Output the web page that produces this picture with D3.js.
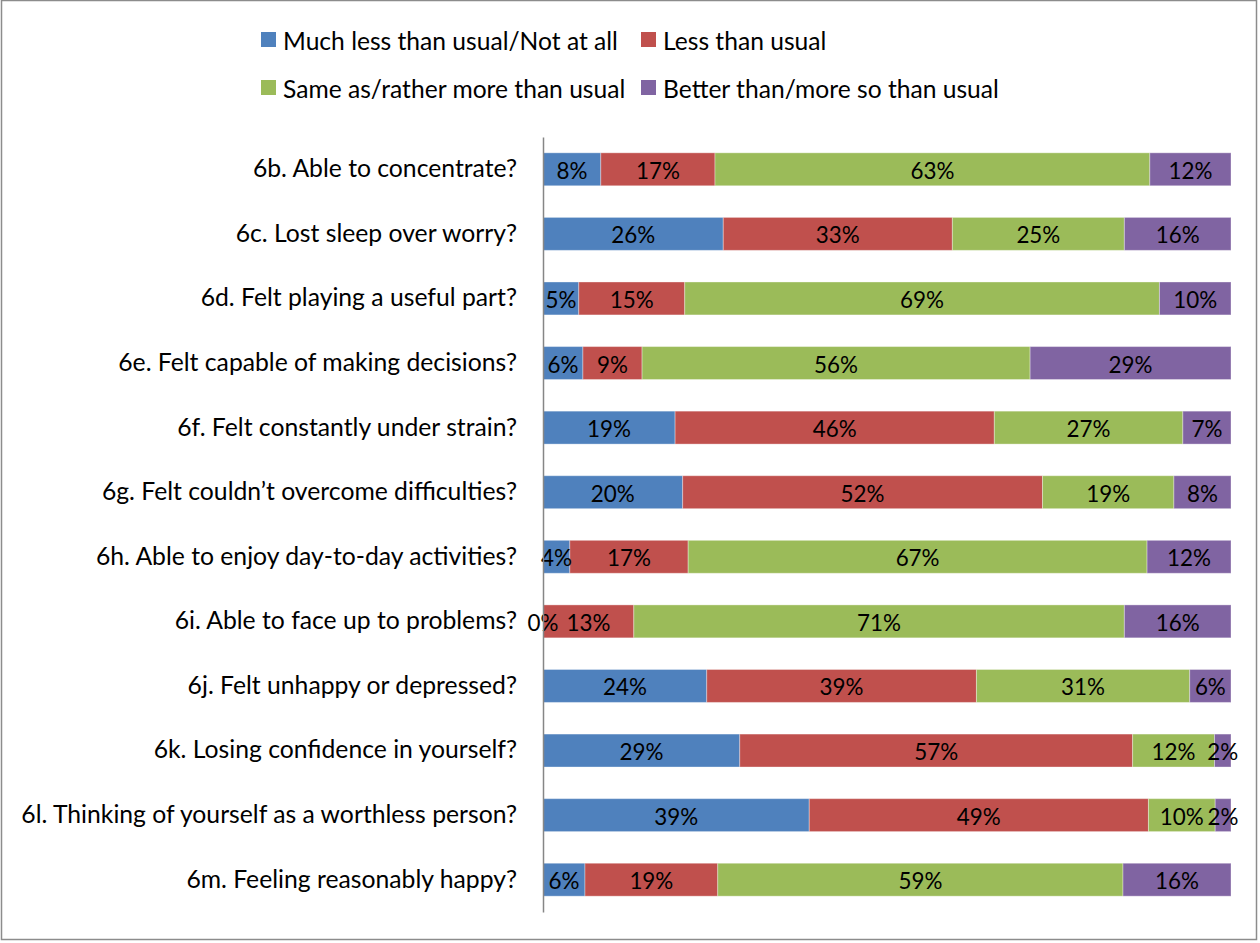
<!DOCTYPE html>
<html><head><meta charset="utf-8">
<script src="https://cdn.jsdelivr.net/npm/d3@7"></script>
<style>
body{margin:0;background:#fff;}
text{font-family:Lato, "Open Sans", sans-serif;}
</style></head>
<body><svg id="c" width="1260" height="943"></svg>
<script>
const categories = [
 "6b. Able to concentrate?",
 "6c. Lost sleep over worry?",
 "6d. Felt playing a useful part?",
 "6e. Felt capable of making decisions?",
 "6f. Felt constantly under strain?",
 "6g. Felt couldn\u2019t overcome difficulties?",
 "6h. Able to enjoy day-to-day activities?",
 "6i. Able to face up to problems?",
 "6j. Felt unhappy or depressed?",
 "6k. Losing confidence in yourself?",
 "6l. Thinking of yourself as a worthless person?",
 "6m. Feeling reasonably happy?"
];
const seriesNames = ["Much less than usual/Not at all","Less than usual","Same as/rather more than usual","Better than/more so than usual"];
const muchLess = [8.4,26.2,5.2,5.8,19.2,20.3,3.9,0,23.8,28.6,38.7,6.1];
const less     = [16.6,33.3,15.4,8.6,46.4,52.3,17.2,13.2,39.2,57.1,49.3,19.3];
const same     = [63.2,25.0,69.0,56.4,27.4,19.1,66.7,71.3,31.0,11.9,9.7,58.9];
const better   = [11.8,15.5,10.4,29.2,7.0,8.3,12.2,15.5,6.0,2.4,2.3,15.7];
const colors = ["#4F81BD","#C0504D","#9BBB59","#8064A2"];

const svg = d3.select("#c");
svg.append("rect").attr("x",1.5).attr("y",0.5).attr("width",1255).attr("height",939)
  .attr("fill","#fff").attr("stroke","#8c8c8c").attr("stroke-width",1.5);

const x = d3.scaleLinear().domain([0,100]).range([543,1231]);
const y = d3.scaleBand().domain(categories).range([137,912]).paddingInner(0.49).paddingOuter(0.245);

// fit helper: font size so that text reaches target width
function fitSize(str, target, base){
  const t = svg.append("text").attr("font-size",base).text(str);
  const w = t.node().getComputedTextLength();
  t.remove();
  return base*target/w;
}
const labelSize = fitSize(categories[10], 496, 20);
const legendSize = fitSize(seriesNames[0], 335, 20);
const barSize = fitSize("63%", 44, 20);

const table = categories.map((c,i)=>({cat:c, s0:muchLess[i], s1:less[i], s2:same[i], s3:better[i]}));
const stack = d3.stack().keys(["s0","s1","s2","s3"])(table);

const g = svg.append("g");
stack.forEach((layer,li)=>{
  g.append("g").selectAll("rect").data(layer).join("rect")
    .attr("x",d=>x(d[0])).attr("width",d=>x(d[1])-x(d[0]))
    .attr("y",d=>y(d.data.cat)).attr("height",y.bandwidth())
    .attr("fill",colors[li]).attr("stroke","#fff").attr("stroke-opacity",0.35).attr("stroke-width",1);
});
stack.forEach((layer,li)=>{
  g.append("g").selectAll("text").data(layer).join("text")
    .attr("x",d=>(x(d[0])+x(d[1]))/2).attr("y",d=>y(d.data.cat)+y.bandwidth()/2+1)
    .attr("text-anchor","middle").attr("dominant-baseline","central")
    .attr("font-size",barSize).attr("fill","#000")
    .text(d=>Math.round(d[1]-d[0])+"%");
});

// axis
const yAxis = d3.axisLeft(y).tickSize(0).tickPadding(26);
const ax = svg.append("g").attr("transform","translate(543,0)").call(yAxis);
ax.select(".domain").attr("stroke","#868686").attr("stroke-width",1.5);
ax.selectAll("text").attr("font-size",labelSize).attr("fill","#000").attr("font-family","Lato, sans-serif");

// legend
const legPos = [[261,40],[641,40],[261,88],[641,88]];
const leg = svg.append("g");
seriesNames.forEach((n,i)=>{
  const [lx,ly] = legPos[i];
  leg.append("rect").attr("x",lx).attr("y",ly-8).attr("width",15).attr("height",15).attr("fill",colors[i]);
  leg.append("text").attr("x",lx+22).attr("y",ly).attr("dominant-baseline","central")
    .attr("font-size",legendSize).attr("fill","#000").text(n);
});
</script></body></html>
